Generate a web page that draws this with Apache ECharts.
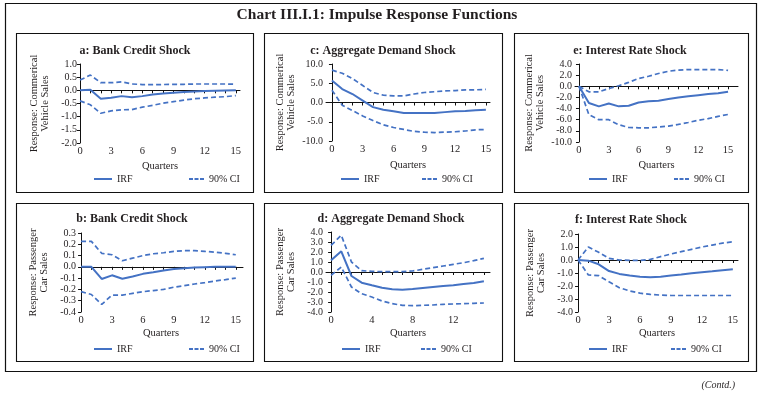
<!DOCTYPE html>
<html><head><meta charset="utf-8">
<script src="https://cdn.jsdelivr.net/npm/echarts@6/dist/echarts.min.js"></script>
<style>html,body{margin:0;padding:0;background:#fff}#c{width:763px;height:395px}</style>
</head><body><div id="c"></div>
<script>
// ---- data ----
const quarters = [0,1,2,3,4,5,6,7,8,9,10,11,12,13,14,15];
const xLabels3 = [0,3,6,9,12,15];
const xLabels4 = [0,4,8,12];

const aIRF   = [0, 0.02, -0.32, -0.28, -0.22, -0.26, -0.22, -0.16, -0.12, -0.09, -0.06, -0.04, -0.03, -0.02, -0.01, 0.0];
const aUpper = [0.39, 0.58, 0.29, 0.29, 0.32, 0.24, 0.22, 0.22, 0.22, 0.23, 0.23, 0.24, 0.24, 0.24, 0.24, 0.23];
const aLower = [-0.40, -0.55, -0.87, -0.78, -0.74, -0.73, -0.64, -0.57, -0.49, -0.43, -0.37, -0.32, -0.29, -0.26, -0.24, -0.20];

const cIRF   = [5.7, 3.5, 2.2, 0.5, -1.2, -1.9, -2.3, -2.7, -2.7, -2.7, -2.7, -2.5, -2.3, -2.2, -2.0, -1.9];
const cUpper = [8.4, 7.6, 6.2, 4.4, 2.6, 1.9, 1.7, 1.7, 2.2, 2.6, 2.8, 3.0, 3.1, 3.3, 3.3, 3.4];
const cLower = [3.2, -0.7, -2.1, -3.5, -4.7, -5.8, -6.5, -7.0, -7.5, -7.7, -7.8, -7.7, -7.6, -7.4, -7.1, -7.0];

const eIRF   = [0, -3.0, -3.6, -3.1, -3.6, -3.5, -2.9, -2.7, -2.6, -2.3, -2.0, -1.8, -1.6, -1.4, -1.25, -1.0];
const eUpper = [0, -1.0, -1.0, -0.4, 0.1, 0.7, 1.4, 1.8, 2.3, 2.7, 2.9, 3.0, 3.0, 3.0, 3.0, 2.85];
const eLower = [0, -5.1, -6.0, -6.0, -6.9, -7.4, -7.45, -7.45, -7.3, -7.15, -6.85, -6.5, -6.1, -5.8, -5.4, -5.05];

const bIRF   = [0, 0, -0.107, -0.075, -0.105, -0.085, -0.062, -0.048, -0.033, -0.02, -0.012, -0.006, -0.003, 0, 0, 0];
const bUpper = [0.226, 0.226, 0.12, 0.107, 0.054, 0.077, 0.10, 0.116, 0.125, 0.137, 0.143, 0.143, 0.137, 0.13, 0.12, 0.107];
const bLower = [-0.22, -0.245, -0.333, -0.25, -0.25, -0.235, -0.22, -0.21, -0.20, -0.18, -0.167, -0.152, -0.14, -0.125, -0.113, -0.10];

const dIRF   = [1.17, 2.07, -0.4, -1.07, -1.33, -1.57, -1.73, -1.77, -1.7, -1.6, -1.5, -1.4, -1.33, -1.2, -1.1, -0.93];
const dUpper = [2.67, 3.67, 1.0, 0.13, 0.07, 0.03, 0.03, 0.03, 0.1, 0.27, 0.43, 0.6, 0.77, 0.93, 1.13, 1.37];
const dLower = [-0.33, 0.5, -1.5, -2.17, -2.5, -2.9, -3.17, -3.33, -3.37, -3.33, -3.3, -3.23, -3.2, -3.17, -3.13, -3.1];

const fIRF   = [0, -0.05, -0.33, -0.85, -1.07, -1.2, -1.28, -1.33, -1.28, -1.2, -1.12, -1.02, -0.94, -0.87, -0.79, -0.71];
const fUpper = [0, 1.0, 0.59, 0.13, 0, -0.03, -0.03, 0.05, 0.26, 0.46, 0.64, 0.82, 1.0, 1.15, 1.3, 1.4];
const fLower = [0, -1.15, -1.2, -1.68, -2.13, -2.38, -2.55, -2.65, -2.7, -2.73, -2.73, -2.73, -2.73, -2.73, -2.73, -2.73];

const mainTitle = 'Chart III.I.1: Impulse Response Functions';
const cvName = 'Response: Commerical\nVehicle Sales';
const pcName = 'Response: Passenger\nCar Sales';

// ---- layout / style ----
const FONT = 'Liberation Serif';
const TXT = '#231f20';
const BLUE = '#4472c4';
const ICON_SOLID = 'path://M0,0h18v2h-18z';
const ICON_DASH = 'path://M0,0h4v2h-4zM5.5,0h4v2h-4zM11,0h4v2h-4z';

const panels = [
  {title:'a: Bank Credit Shock', yName:cvName, irf:aIRF, up:aUpper, lo:aLower,
   box:[16,33,237,159], grid:[80,64,160,79], x:[0,15.4], xl:xLabels3, y:[-2,1,0.5],
   tx:135, ty:51, lg:[94,189,174], nameGap:18},
  {title:'c: Aggregate Demand Shock', yName:cvName, irf:cIRF, up:cUpper, lo:cLower,
   box:[264,33,238,159], grid:[326,64,164,77], x:[-0.58,15.4], xl:xLabels3, y:[-10,10,5],
   tx:383, ty:51, lg:[341,422,174], nameGap:19},
  {title:'e: Interest Rate Shock', yName:cvName, irf:eIRF, up:eUpper, lo:eLower,
   box:[514,33,234,159], grid:[575,64,163,78], x:[-0.4,16.0], xl:xLabels3, y:[-10,4,2],
   tx:630, ty:51, lg:[589,674,174], nameGap:18},
  {title:'b: Bank Credit Shock', yName:pcName, irf:bIRF, up:bUpper, lo:bLower,
   box:[16,203,237,158], grid:[79,233,164,79], x:[-0.2,15.7], xl:xLabels3, y:[-0.4,0.3,0.1],
   tx:132, ty:219, lg:[94,189,344], nameGap:16},
  {title:'d: Aggregate Demand Shock', yName:pcName, irf:dIRF, up:dUpper, lo:dLower,
   box:[264,203,238,158], grid:[326,232,164,80], x:[-0.5,15.6], xl:xLabels4, y:[-4,4,1],
   tx:391, ty:219, lg:[342,421,344], nameGap:16},
  {title:'f: Interest Rate Shock', yName:pcName, irf:fIRF, up:fUpper, lo:fLower,
   box:[514,203,234,158], grid:[576,234,162,78], x:[-0.2,15.5], xl:xLabels3, y:[-4,2,1],
   tx:631, ty:220, lg:[589,671,344], nameGap:16}
];

const grid=[], xAxis=[], yAxis=[], series=[], legend=[];
const graphic=[
  {type:'rect', shape:{x:5.5,y:3.5,width:751,height:368}, style:{fill:'none',stroke:'#111',lineWidth:1.2}, silent:true},
  {type:'text', x:377, y:15, style:{text:mainTitle, fontFamily:FONT, fontSize:15.5, fontWeight:'bold', fill:TXT, align:'center', verticalAlign:'middle'}},
  {type:'text', x:735, y:385, style:{text:'(Contd.)', fontFamily:FONT, fontSize:10, fontStyle:'italic', fill:TXT, align:'right', verticalAlign:'middle'}}
];
const pair = arr => quarters.map((q,i)=>[q, arr[i]]);

panels.forEach((p,k)=>{
  graphic.push({type:'rect', shape:{x:p.box[0]+0.5,y:p.box[1]+0.5,width:p.box[2],height:p.box[3]}, style:{fill:'none',stroke:'#111',lineWidth:1.1}, silent:true});
  graphic.push({type:'text', x:p.tx, y:p.ty, style:{text:p.title, fontFamily:FONT, fontSize:12, fontWeight:'bold', fill:TXT, align:'center', verticalAlign:'middle'}});
  grid.push({left:p.grid[0], top:p.grid[1], width:p.grid[2], height:p.grid[3], containLabel:false});
  xAxis.push({type:'value', gridIndex:k, min:p.x[0], max:p.x[1], position:'bottom',
    axisLine:{show:true, onZero:true, lineStyle:{color:'#111', width:1}},
    axisTick:{show:true, customValues:quarters, length:3, lineStyle:{color:'#111'}},
    axisLabel:{show:false}, splitLine:{show:false}});
  xAxis.push({type:'value', gridIndex:k, min:p.x[0], max:p.x[1], position:'bottom',
    axisLine:{show:false, onZero:false}, axisTick:{show:false},
    axisLabel:{show:true, customValues:p.xl, margin:3, fontFamily:FONT, fontSize:10.5, color:TXT},
    splitLine:{show:false},
    name:'Quarters', nameLocation:'middle', nameGap:p.nameGap,
    nameTextStyle:{fontFamily:FONT, fontSize:10.5, color:TXT}});
  yAxis.push({type:'value', gridIndex:k, min:p.y[0], max:p.y[1], interval:p.y[2],
    axisLine:{show:true, lineStyle:{color:'#111', width:1}},
    axisTick:{show:true, length:3, lineStyle:{color:'#111'}},
    axisLabel:{fontFamily:FONT, fontSize:10, color:TXT, margin:3, formatter:v=>v.toFixed(1)},
    splitLine:{show:false},
    name:p.yName, nameLocation:'middle', nameRotate:90, nameGap:29,
    nameTextStyle:{fontFamily:FONT, fontSize:10.5, color:TXT, lineHeight:11}});
  series.push({name:'IRF', type:'line', xAxisIndex:2*k, yAxisIndex:k, data:pair(p.irf),
    symbol:'none', lineStyle:{color:BLUE, width:2}, itemStyle:{color:BLUE}, z:3, silent:true});
  series.push({name:'90% CI', type:'line', xAxisIndex:2*k, yAxisIndex:k, data:pair(p.up),
    symbol:'none', lineStyle:{color:BLUE, width:1.7, type:[5,3]}, itemStyle:{color:BLUE}, silent:true});
  series.push({name:'90% CI', type:'line', xAxisIndex:2*k, yAxisIndex:k, data:pair(p.lo),
    symbol:'none', lineStyle:{color:BLUE, width:1.7, type:[5,3]}, itemStyle:{color:BLUE}, silent:true});
  legend.push({data:[{name:'IRF', icon:ICON_SOLID}], left:p.lg[0], top:p.lg[2], padding:0, itemWidth:18, itemHeight:10, selectedMode:false,
    textStyle:{fontFamily:FONT, fontSize:10, color:TXT}});
  legend.push({data:[{name:'90% CI', icon:ICON_DASH}], left:p.lg[1], top:p.lg[2], padding:0, itemWidth:15, itemHeight:10, selectedMode:false,
    textStyle:{fontFamily:FONT, fontSize:10, color:TXT}});
});

const chart = echarts.init(document.getElementById('c'), null, {renderer:'canvas'});
chart.setOption({backgroundColor:'#fff', animation:false, grid, xAxis, yAxis, series, legend, graphic});
</script>
</body></html>
